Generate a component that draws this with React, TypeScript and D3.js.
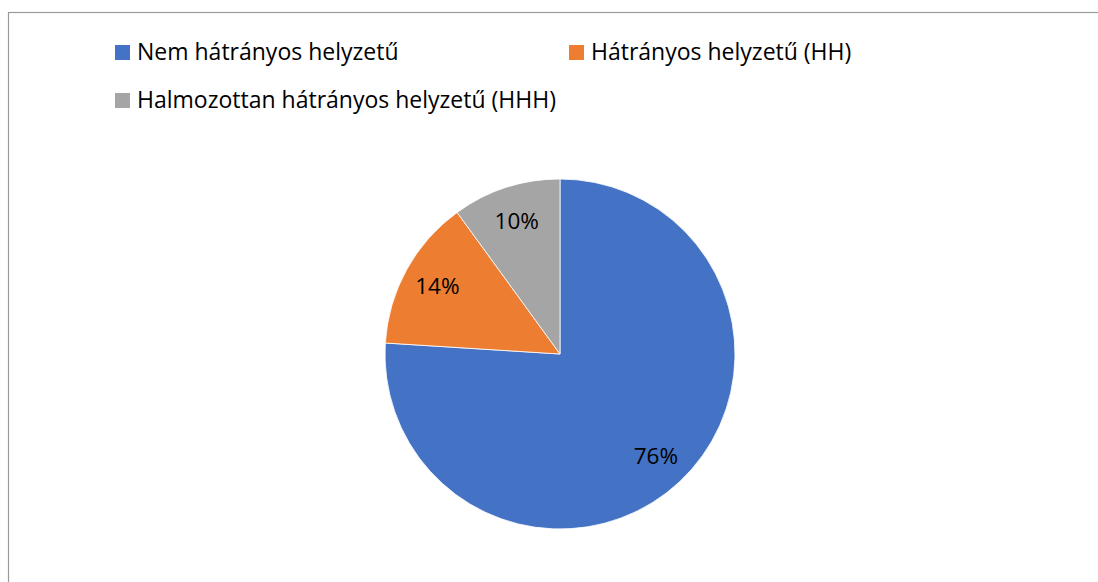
import React from "react";
import * as d3 from "d3";

const categories = ["Nem hátrányos helyzetű", "Hátrányos helyzetű (HH)", "Halmozottan hátrányos helyzetű (HHH)"];
const values = [76, 14, 10];
const colors = ["#4472C4", "#ED7D31", "#A5A5A5"];

const W = 1098;
const H = 582;
const FONT = "'Open Sans', sans-serif";

export default function App() {
  const cx = 560, cy = 354, r = 175;
  const pie = d3.pie<number>().sort(null).value((d) => d)(values);
  const arc = d3.arc<d3.PieArcDatum<number>>().innerRadius(0).outerRadius(r);
  const labelArc = d3.arc<d3.PieArcDatum<number>>().innerRadius(r * 0.8).outerRadius(r * 0.8);
  const total = d3.sum(values);

  const legendPos = [
    { x: 115, y: 60 },
    { x: 569, y: 60 },
    { x: 115, y: 108 },
  ];

  return (
    <svg width={W} height={H} style={{ position: "absolute", left: 0, top: 0, display: "block" }}>
      <rect x={0} y={0} width={W} height={H} fill="#ffffff" />
      <rect x={8.5} y={12.5} width={W + 10} height={H + 10} fill="none" stroke="#9a9a9a" strokeWidth={1.2} />
      <g>
        {categories.map((c, i) => (
          <g key={c}>
            <rect x={legendPos[i].x} y={legendPos[i].y - 15} width={15} height={15} fill={colors[i]} />
            <text x={legendPos[i].x + 22} y={legendPos[i].y} fontFamily={FONT} fontSize={23} fill="#000">
              {c}
            </text>
          </g>
        ))}
      </g>
      <g transform={`translate(${cx},${cy})`}>
        {pie.map((p, i) => (
          <path key={i} d={arc(p) || ""} fill={colors[i]} stroke="#ffffff" strokeWidth={0.8} />
        ))}
        {pie.map((p, i) => {
          const [x, y] = labelArc.centroid(p);
          return (
            <text key={"l" + i} x={x} y={y} dy="0.35em" textAnchor="middle" fontFamily={FONT} fontSize={22.5} fill="#000">
              {Math.round((p.data / total) * 100)}%
            </text>
          );
        })}
      </g>
    </svg>
  );
}
